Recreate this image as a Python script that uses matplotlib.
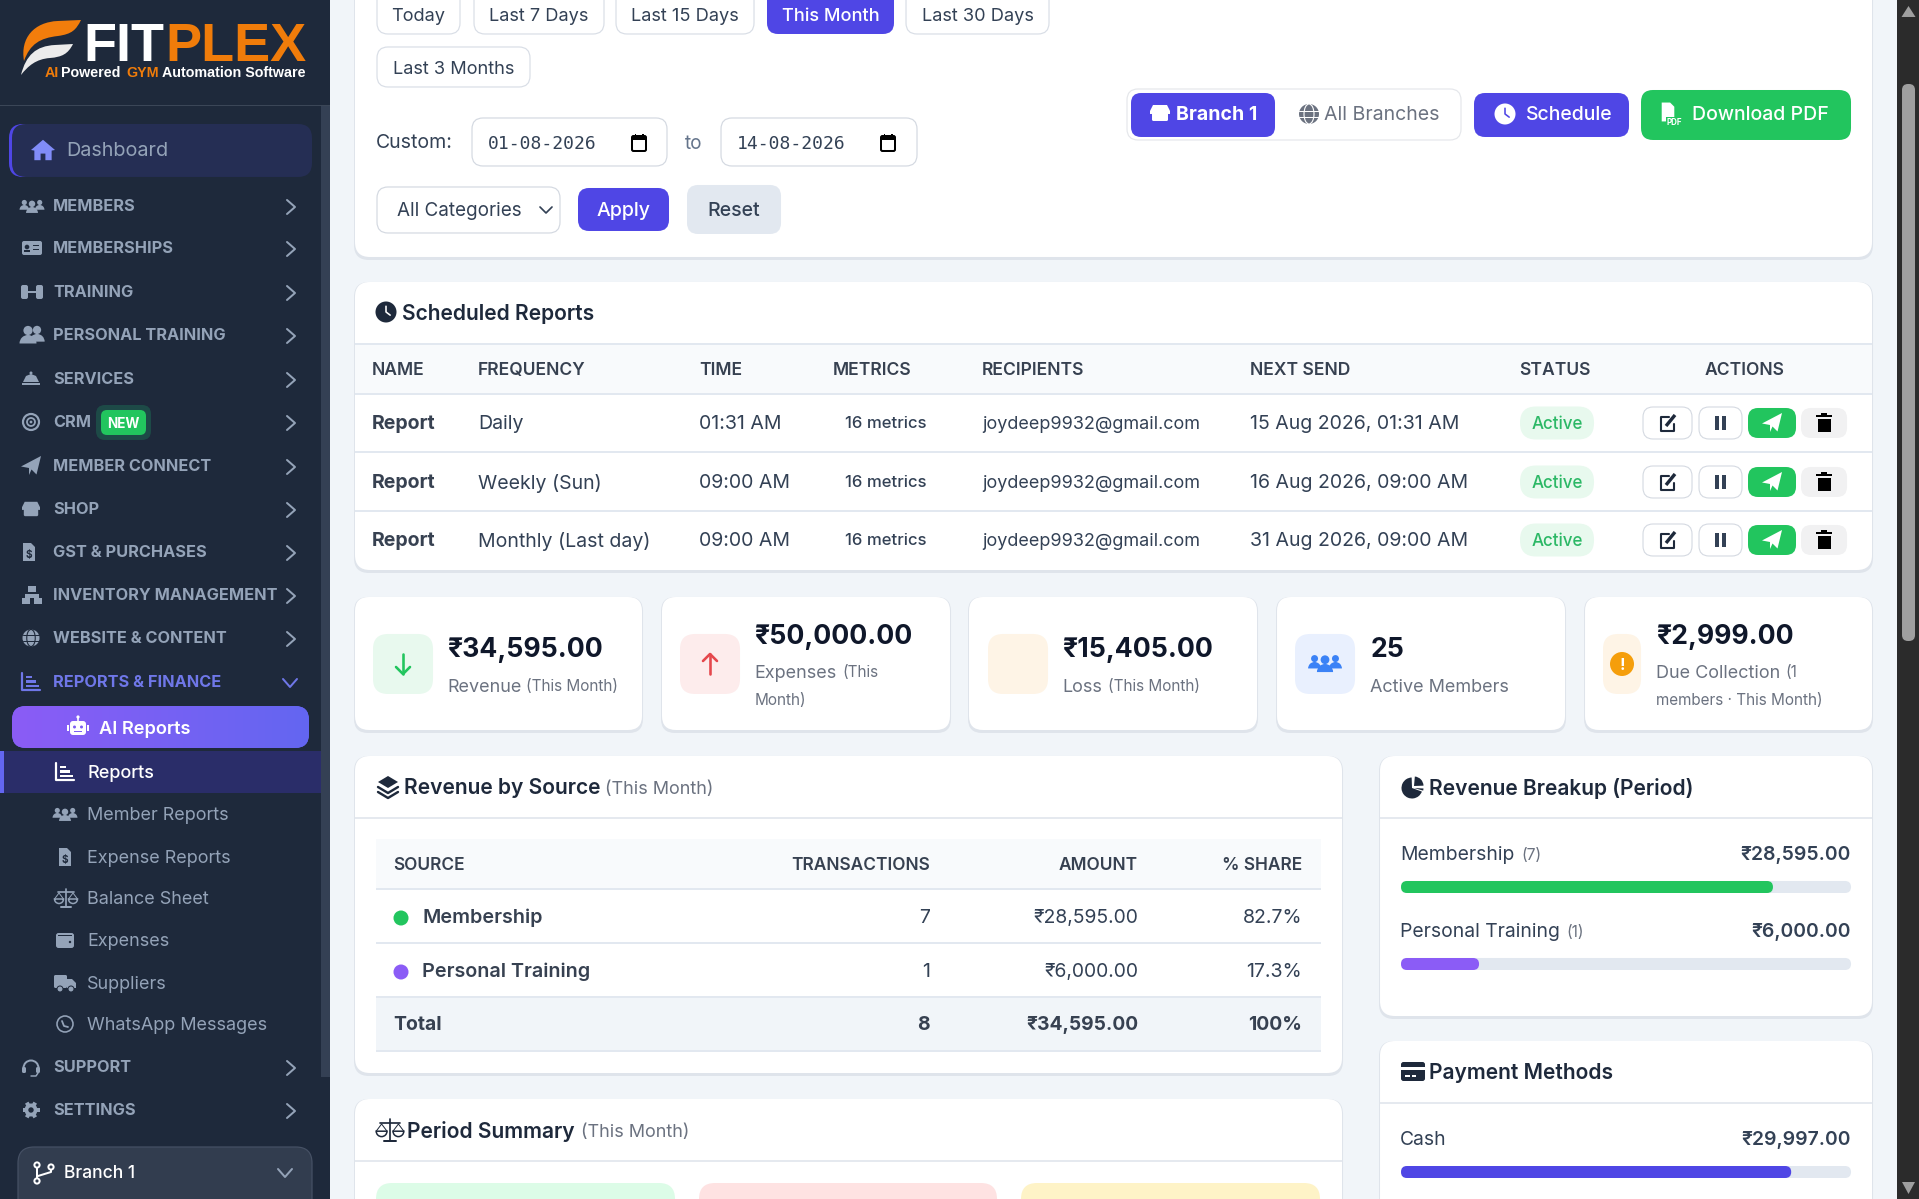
import numpy as np
import matplotlib
matplotlib.use("Agg")
import matplotlib.pyplot as plt
from matplotlib.patches import FancyBboxPatch, Circle, Polygon, Wedge, PathPatch, Ellipse
from matplotlib.path import Path

# ---------- content ----------
nav_sections = ["MEMBERS", "MEMBERSHIPS", "TRAINING", "PERSONAL TRAINING", "SERVICES", "CRM", "MEMBER CONNECT",
                "SHOP", "GST & PURCHASES", "INVENTORY MANAGEMENT", "WEBSITE & CONTENT"]
nav_sub = ["Reports", "Member Reports", "Expense Reports", "Balance Sheet", "Expenses", "Suppliers", "WhatsApp Messages"]
filters = ["Today", "Last 7 Days", "Last 15 Days", "This Month", "Last 30 Days"]
sched_cols = ["NAME", "FREQUENCY", "TIME", "METRICS", "RECIPIENTS", "NEXT SEND", "STATUS"]
sched_freq = ["Daily", "Weekly (Sun)", "Monthly (Last day)"]
sched_time = ["01:31 AM", "09:00 AM", "09:00 AM"]
sched_next = ["15 Aug 2026, 01:31 AM", "16 Aug 2026, 09:00 AM", "31 Aug 2026, 09:00 AM"]
src_names = ["Membership", "Personal Training"]
src_tx = [7, 1]
src_amt = [28595.00, 6000.00]
src_share = ["82.7%", "17.3%"]
cash_amt = 29997.00
total_rev = 34595.00

fig = plt.figure(figsize=(1919.01/100, 1199.01/100), dpi=100, facecolor="#f1f5f9")
ax = fig.add_axes([0, 0, 1, 1])
ax.set_xlim(0, 1919); ax.set_ylim(1199, 0); ax.axis("off"); ax.autoscale(False)

F = ["Inter", "DejaVu Sans"]
DARK = "#1e293b"; SLATE = "#334155"; GREY = "#6b7280"; MUTE = "#94a3b8"; IND = "#4f46e5"; GRN = "#22c55e"

def rr(x0, y0, x1, y1, r, fc, ec="none", lw=0, z=2, alpha=None):
    p = FancyBboxPatch((x0, y0), x1-x0, y1-y0, boxstyle=f"round,pad=0,rounding_size={r}", fc=fc, ec=ec, lw=lw*.72, zorder=z, alpha=alpha)
    ax.add_patch(p); return p
def rect(x0, y0, x1, y1, c, z=2):
    ax.fill([x0, x1, x1, x0], [y0, y0, y1, y1], color=c, lw=0, zorder=z)
def T(x, y, s, px=19.5, c=SLATE, w="normal", ha="left", fam=F, z=6):
    if ha == "left":
        x -= 0.8
    return ax.text(x, y-0.8, s, fontsize=px*.72, color=c, fontweight=w, ha=ha, va="center_baseline", family=fam, zorder=z)
def L(xs, ys, c, lw=2, z=5, cap="round"):
    ax.plot(xs, ys, color=c, lw=lw*.72, solid_capstyle=cap, solid_joinstyle="round", zorder=z)
def C(x, y, r, c, z=5, ec="none", lw=0):
    ax.add_patch(Circle((x, y), r, fc=c, ec=ec, lw=lw*.72, zorder=z))
def P(pts, c, z=5):
    ax.add_patch(Polygon(pts, closed=True, fc=c, ec="none", zorder=z))
def card(x0, y0, x1, y1, r=15):
    rr(x0-1, y0, x1+1, y1+3, r, "#dfe4eb", z=1)
    rr(x0, y0, x1, y1, r, "white", z=2)

# ---------- icons ----------
def ic_home(x, y, s, c):
    P([(x-s, y), (x, y-s*.85), (x+s, y), (x+s*.72, y+.05*s), (x+s*.72, y+s*.85), (x+s*.2, y+s*.85), (x+s*.2, y+s*.3),
       (x-s*.2, y+s*.3), (x-s*.2, y+s*.85), (x-s*.72, y+s*.85), (x-s*.72, y+.05*s)], c)
def person(x, y, s, c):
    C(x, y-s*.45, s*.46, c)
    ax.add_patch(Wedge((x, y+s*.85), s*.85, 180, 360, fc=c, ec="none", zorder=5))
def ic_users(x, y, c, s=8):
    person(x-s*1.1, y-1, s*.8, c); person(x+s*1.1, y-1, s*.8, c); person(x, y+1, s, c)
def ic_two(x, y, c):
    person(x+5, y-1, 9, c); person(x-4, y, 10, c)
def ic_id(x, y, c):
    rr(x-10, y-7, x+10, y+7, 2, c, z=5); C(x-5, y-1, 2.3, DARK, z=6); rect(x-8, y+2, x-2, y+4, DARK, z=6)
    rect(x+1, y-3, x+7, y-1.5, DARK, z=6); rect(x+1, y+1, x+7, y+2.5, DARK, z=6)
def ic_dumb(x, y, c):
    rr(x-11, y-7, x-4, y+7, 2, c, z=5); rr(x+4, y-7, x+11, y+7, 2, c, z=5); rect(x-4, y-1, x+4, y+1.5, c, z=5)
def ic_bell(x, y, c):
    P([(x-8, y+3), (x-5, y-3), (x, y-5), (x+5, y-3), (x+8, y+3)], c); rect(x-9, y+4, x+9, y+6, c, z=5); C(x, y-6, 1.5, c)
def ic_target(x, y, c):
    C(x, y, 8, "none", ec=c, lw=2.2); C(x, y, 4, "none", ec=c, lw=1.8); C(x, y, 1.4, c)
def ic_plane(x, y, s, c):
    P([(x+s, y-s), (x+s*.55, y+s*.85), (x+s*.05, y+s*.35), (x-s*.2, y+s*.9), (x-s*.2, y+s*.2), (x-s, y+s*.05)], c)
def ic_store(x, y, c, s=1.0):
    rr(x-8*s, y-1*s, x+8*s, y+8*s, 1.5, c, z=5)
    P([(x-7*s, y-8*s), (x+7*s, y-8*s), (x+10*s, y-2*s), (x+10*s, y+1*s), (x-10*s, y+1*s), (x-10*s, y-2*s)], c)
def ic_file(x, y, c, tc=DARK, s=1.0, txt="$"):
    P([(x-6*s, y-9*s), (x+2*s, y-9*s), (x+6*s, y-5*s), (x+6*s, y+9*s), (x-6*s, y+9*s)], c)
    if txt: T(x, y+3*s, txt, 10*s, tc, "bold", "center")
def ic_site(x, y, c):
    rect(x-4, y-9, x+4, y-3, c, z=5); rect(x-10, y+3, x-2, y+9, c, z=5); rect(x+2, y+3, x+10, y+9, c, z=5); rect(x-7, y-1, x+7, y+3, c, z=5)
def ic_globe(x, y, r, c, bg=DARK):
    C(x, y, r, c)
    L([x-r, x+r], [y-r*.33, y-r*.33], bg, 1, z=6); L([x-r, x+r], [y+r*.33, y+r*.33], bg, 1, z=6)
    ax.add_patch(Ellipse((x, y), r, 2*r, fc="none", ec=bg, lw=.8, zorder=6))
def ic_chart(x, y, c, s=1.0):
    L([x-9*s, x-9*s, x+9*s], [y-9*s, y+8*s, y+8*s], c, 2.2)
    rect(x-5*s, y-6*s, x+1*s, y-3.5*s, c, z=5); rect(x-5*s, y-1.5*s, x+5*s, y+1*s, c, z=5); rect(x-5*s, y+3*s, x+8*s, y+5.5*s, c, z=5)
def ic_robot(x, y, c, bg):
    rr(x-8, y-6, x+8, y+8, 3, c, z=5); rect(x-11, y-2, x-9, y+4, c, z=5); rect(x+9, y-2, x+11, y+4, c, z=5)
    L([x, x], [y-10, y-6], c, 1.6); C(x, y-10, 1.6, c); C(x-3.5, y, 1.5, bg, z=6); C(x+3.5, y, 1.5, bg, z=6); rect(x-4, y+4, x+4, y+5.5, bg, z=6)
def ic_scale(x, y, c, s=1.0):
    L([x, x], [y-9*s, y+8*s], c, 1.7); L([x-8*s, x+8*s], [y-6*s, y-6*s], c, 1.7); L([x-5*s, x+5*s], [y+9*s, y+9*s], c, 2)
    for d in (-7, 7):
        ax.add_patch(Wedge((x+d*s, y+1*s), 4.5*s, 0, 180, fc="none", ec=c, lw=1.1, zorder=5))
        L([x+(d-4.5)*s, x+d*s, x+(d+4.5)*s], [y+1*s, y-5*s, y+1*s], c, 1)
def ic_wallet(x, y, c):
    rr(x-9, y-7, x+9, y+8, 2.5, c, z=5); C(x+5, y+2, 1.2, DARK, z=6); rect(x-7, y-5, x+7, y-4, DARK, z=6)
def ic_truck(x, y, c):
    rr(x-11, y-8, x+2, y+5, 1.5, c, z=5); P([(x+2, y-4), (x+7, y-4), (x+11, y), (x+11, y+5), (x+2, y+5)], c)
    C(x-5, y+6, 3, c, z=6, ec=DARK, lw=1); C(x+6, y+6, 3, c, z=6, ec=DARK, lw=1)
def ic_wa(x, y, c):
    C(x, y, 8, "none", ec=c, lw=1.6); L([x-3, x-1, x+3], [y-3, y+2, y+3], c, 1.8)
def ic_head(x, y, c):
    ax.add_patch(Wedge((x, y+1), 8.5, 180, 360, width=2, fc=c, ec="none", zorder=5))
    rr(x-9, y, x-5, y+6, 1.5, c, z=5); rr(x+5, y, x+9, y+6, 1.5, c, z=5); L([x+7, x+5, x], [y+6, y+9, y+9], c, 1.5)
def ic_gear(x, y, c):
    for a in np.arange(0, 180, 60):
        ca, sa = np.cos(np.radians(a)), np.sin(np.radians(a))
        L([x-8.5*ca, x+8.5*ca], [y-8.5*sa, y+8.5*sa], c, 4, cap="butt")
    C(x, y, 6.5, c); C(x, y, 2.7, DARK, z=6)
def ic_branch(x, y, c):
    C(x-7, y-8, 2.6, "none", ec=c, lw=2); C(x-7, y+8, 2.6, "none", ec=c, lw=2); C(x+7, y-6, 2.6, "none", ec=c, lw=2)
    L([x-7, x-7], [y-5, y+5], c, 2); L([x+7, x+7, x-6], [y-3, y-1, y+3], c, 2)
def ic_clock(x, y, r, c, hand):
    C(x, y, r, c); L([x, x, x+r*.4], [y-r*.55, y, y+r*.3], hand, 1.6, z=6)
def ic_cal(x, y):
    rr(x-7, y-7, x+7, y+8, 1.5, "white", ec="black", lw=2, z=5); rect(x-7, y-7, x+7, y-3, "black", z=6)
    rect(x-4.5, y-9, x-3, y-6, "black", z=6); rect(x+3, y-9, x+4.5, y-6, "black", z=6)
def ic_edit(x, y):
    L([x+1, x-7, x-7, x+6, x+6], [y-6, y-6, y+8, y+8, y+1], DARK, 2.1); L([x-2, x+7], [y+3, y-8], DARK, 3.4, cap="butt")
def ic_trash(x, y):
    rect(x-6.5, y-4, x+6.5, y+9, "black", z=5); rect(x-8, y-8, x+8, y-5.5, "black", z=5); rect(x-3, y-10, x+3, y-7, "black", z=5)
def ic_layers(x, y, c):
    P([(x, y-11), (x+10, y-5), (x, y+1), (x-10, y-5)], c)
    L([x-10, x, x+10], [y, y+6, y], c, 2.4); L([x-10, x, x+10], [y+5, y+11, y+5], c, 2.4)
def ic_pie(x, y, c):
    ax.add_patch(Wedge((x-1, y+1), 10.5, 20, 268, fc=c, ec="none", zorder=5))
    ax.add_patch(Wedge((x+1, y-1), 9.5, 275, 358, fc=c, ec="none", zorder=5))
    ax.add_patch(Wedge((x+1, y+1), 9.5, 3, 16, fc=c, ec="none", zorder=5))
def ic_ccard(x, y, c):
    rr(x-12, y-10, x+12, y+9, 2.5, c, z=5); rect(x-12, y-5, x+12, y-2, "white", z=6)
    rect(x-8, y+3, x-3, y+5, "white", z=6); rect(x-1, y+3, x+3, y+5, "white", z=6)
def arrow(x, y, c, up):
    d = -1 if up else 1
    L([x, x], [y-10*d, y+10*d], c, 2.6); L([x-7, x, x+7], [y+3*d, y+10*d, y+3*d], c, 2.6)
def chev(x, y, c=MUTE, down=False):
    if down: L([x-7, x, x+7], [y-4, y+4, y-4], c, 2)
    else: L([x-4, x+4, x-4], [y-7, y, y+7], c, 2)

# ---------- sidebar ----------
rect(0, 0, 330, 1199, "#1e293b", z=1)
rect(0, 105, 330, 106, "#3b4657", z=3)
rect(321, 106, 330, 1077, "#344054", z=2)
# logo
ax.add_patch(PathPatch(Path([(21, 75), (26, 55), (36, 46), (55, 45), (73, 44), (68, 54), (62, 57), (50, 58), (36, 59), (28, 66), (21, 75)],
                            [1, 4, 4, 4, 2, 4, 4, 4, 4, 4, 4]), fc="#ececec", ec="none", zorder=4))
ax.add_patch(PathPatch(Path([(24, 61), (20, 38), (34, 22), (58, 21), (81, 20), (76, 30), (72, 34), (58, 36), (40, 38), (30, 44), (24, 61)],
                            [1, 4, 4, 4, 2, 4, 4, 4, 4, 4, 4]), fc="#f27d0c", ec="none", zorder=4))
LB = ["Liberation Sans", "DejaVu Sans"]
T(84, 42, "FIT", 54, "white", "bold", fam=LB)
T(166, 42, "PLEX", 54, "#f07c0a", "bold", fam=LB)
T(45, 72, "AI", 14.3, "#f07c0a", "bold", fam=LB)
T(62, 72, "Powered", 14.3, "white", "bold", fam=LB)
T(127, 72, "GYM", 14.3, "#f07c0a", "bold", fam=LB)
T(163, 72, "Automation Software", 14.3, "white", "bold", fam=LB)
# dashboard
rr(9, 124, 40, 177, 14, IND, z=2)
rr(12, 124, 312, 177, 14, "#252e54", z=3)
ic_home(43, 150, 12, "#818cf8")
T(67, 150, "Dashboard", 19.8, MUTE)
# sections
sec_y = [206, 248, 292, 335, 379, 422, 466, 509, 552, 595, 638]
for name, y in zip(nav_sections, sec_y):
    T(54, y, name, 16.3, MUTE, "bold")
    chev(291, y+1)
ic_users(32, 206, MUTE, 7); ic_id(32, 248, MUTE); ic_dumb(32, 292, MUTE); ic_two(32, 335, MUTE); ic_bell(31, 379, MUTE)
ic_target(31, 422, MUTE); ic_plane(31, 466, 10, MUTE); ic_store(31, 509, MUTE, .9); ic_file(29, 552, MUTE, DARK)
ic_site(32, 595, MUTE); ic_globe(31, 638, 8.5, MUTE)
rr(96, 405, 151, 440, 9, "#1d4a47", z=3); rr(101, 410, 146, 435, 6, GRN, z=4)
T(123.5, 423, "NEW", 13.5, "white", "bold", "center")
# reports
ic_chart(31, 682, "#6f77e8"); T(54, 682, "REPORTS & FINANCE", 16.3, "#6f77e8", "bold"); chev(290, 683, "#6f77e8", True)
ai = rr(12, 706, 309, 748, 14, "#6366f1", z=3)
im = ax.imshow(np.linspace(0, 1, 256).reshape(1, -1), extent=(12, 309, 748, 706), aspect="auto", zorder=3.5,
               cmap=matplotlib.colors.LinearSegmentedColormap.from_list("g", ["#8b5cf6", "#6366f1"]))
im.set_clip_path(ai); ax.set_xlim(0, 1919); ax.set_ylim(1199, 0)
ic_robot(78, 727, "white", "#7c5ff3"); T(100, 728, "AI Reports", 18.2, "white", "semibold")
rect(0, 751, 321, 793, "#2a2d69", z=2); rect(0, 751, 4, 793, "#6366f1", z=3)
sub_y = [772, 814, 857, 898, 940, 983, 1024]
for i, (name, y) in enumerate(zip(nav_sub, sub_y)):
    T(88, y, name, 18, "white" if i == 0 else MUTE, "medium" if i == 0 else "normal")
ic_chart(65, 772, "white"); ic_users(65, 814, MUTE, 7); ic_file(65, 857, MUTE, DARK); ic_scale(66, 898, MUTE); ic_wallet(65, 940, MUTE)
ic_truck(65, 983, MUTE); ic_wa(65, 1024, MUTE)
for name, y in zip(["SUPPORT", "SETTINGS"], [1067, 1110]):
    T(54, y, name, 16.3, MUTE, "bold"); chev(291, y+1)
ic_head(31, 1067, MUTE); ic_gear(31, 1110, MUTE)
rr(18, 1147, 312, 1215, 16, "#323d4f", ec="#465165", lw=1.2, z=3)
ic_branch(44, 1173, "white"); T(65, 1172, "Branch 1", 17.5, "white", "medium"); chev(285, 1173, MUTE, True)

# ---------- right scrollbar ----------
rect(1897, 0, 1919, 1199, "#2b2b2b", z=1)
rr(1902, 84, 1915, 641, 6, "#9f9f9f", z=2)
P([(1901.5, 17), (1915.5, 17), (1908.5, 6)], "#9f9f9f")
P([(1902, 1182), (1915, 1182), (1908.5, 1194)], "#9f9f9f")

# ---------- filter card ----------
card(355, -20, 1872, 257)
boxes = [(377, 460), (474, 604), (616, 754), (767, 894), (906, 1049)]
for (x0, x1), s in zip(boxes, filters):
    on = s == "This Month"
    rr(x0, -15, x1, 34, 11, IND if on else "white", ec="none" if on else "#d9dee6", lw=1.2, z=3)
    T((x0+x1)/2, 15, s, 18.2, "white" if on else SLATE, "medium" if on else "normal", "center")
rr(377, 47, 530, 87, 11, "white", ec="#d9dee6", lw=1.2, z=3)
T(453.5, 68, "Last 3 Months", 18.2, SLATE, ha="center")
T(377, 142, "Custom:", 19.5, SLATE)
M = ["DejaVu Sans Mono"]
for x0, x1, s in [(472, 667, "01-08-2026"), (721, 917, "14-08-2026")]:
    rr(x0, 118, x1, 166, 11, "white", ec="#d4d9e1", lw=1.2, z=3)
    T(x0+17, 143, s, 18, SLATE, fam=M); ic_cal(x0+167, 143)
T(694, 143, "to", 19, "#64748b", ha="center")
rr(377, 187, 560, 233, 11, "white", ec="#d4d9e1", lw=1.2, z=3)
T(398, 210, "All Categories", 18.9, SLATE); L([540, 546, 552], [207, 213, 207], SLATE, 1.7)
rr(578, 188, 669, 231, 11, IND, z=3); T(623.5, 210, "Apply", 19.5, "white", "medium", "center")
rr(687, 185, 781, 234, 11, "#e2e8f0", z=3); T(734, 210, "Reset", 19.5, SLATE, "medium", "center")
rr(1127, 89, 1461, 140, 11, "white", ec="#e5e7eb", lw=1.2, z=3)
rr(1131, 93, 1275, 137, 10, IND, z=4)
ic_store(1160, 113, "white"); T(1177, 114, "Branch 1", 19.5, "white", "bold")
ic_globe(1309, 114, 10, "#6b7280", "white"); T(1325, 114, "All Branches", 19.5, "#6b7280")
rr(1474, 93, 1629, 137, 11, IND, z=4); ic_clock(1505, 114, 10.5, "white", IND); T(1527, 114, "Schedule", 19.5, "white", "medium")
rr(1641, 90, 1851, 140, 12, GRN, z=4); ic_file(1668, 112, "white", "white", 1.05, None)
rect(1666, 117, 1682, 126, GRN, z=6); T(1674, 122, "PDF", 8, "white", "bold", "center", z=7)
T(1693, 114, "Download PDF", 19.5, "white", "medium")

# ---------- scheduled reports ----------
card(355, 282, 1872, 570)
ic_clock(386, 312, 10.5, DARK, "white"); T(403, 313, "Scheduled Reports", 21, DARK, "semibold")
rect(355, 344, 1872, 394, "#f8fafc", z=2)
for y in (344, 394, 452, 511):
    rect(355, y-.6, 1872, y+.6, "#e2e8f0", z=3)
col_x = [373, 479, 700, 834, 983, 1251, 1520]
for x, s in zip(col_x, sched_cols):
    T(x, 369, s, 17.5, "#374151", "semibold")
T(1745, 369, "ACTIONS", 17.5, "#374151", "semibold", "center")
row_y = [423, 482, 540]
for y, fq, tm, nx in zip(row_y, sched_freq, sched_time, sched_next):
    T(373, y, "Report", 19.5, "#374151", "bold"); T(479, y, fq, 19.5, SLATE); T(700, y, tm, 19.5, SLATE)
    T(846, y, "16 metrics", 16.7, SLATE, "medium"); T(983, y, "joydeep9932@gmail.com", 18, SLATE); T(1251, y, nx, 19.5, SLATE)
    rr(1520, y-16.5, 1594, y+16.5, 16, "#e8f9ee", z=3); T(1557, y, "Active", 17, "#2cb866", "medium", "center")
    rr(1643, y-16, 1692, y+16, 10, "white", ec="#d4d9e1", lw=1.1, z=3); ic_edit(1668, y)
    rr(1699, y-16, 1742, y+16, 10, "white", ec="#d4d9e1", lw=1.1, z=3); rect(1715, y-7, 1719, y+7, SLATE, z=5); rect(1722, y-7, 1726, y+7, SLATE, z=5)
    rr(1748, y-15, 1796, y+15, 10, GRN, z=3); ic_plane(1772, y, 10, "white")
    rr(1801, y-15, 1847, y+15, 10, "#f1f1f2", z=3); ic_trash(1824, y)

# ---------- KPI cards ----------
kpi_x = [(355, 642), (662, 950), (969, 1257), (1277, 1565), (1585, 1872)]
for x0, x1 in kpi_x:
    card(x0, 597, x1, 730, 14)
for (x0, x1), c in zip([(373, 433), (680, 740), (988, 1048), (1295, 1355), (1603, 1641)],
                       ["#e8f9ee", "#fdecec", "#fef4e6", "#e9f0fe", "#fef4e6"]):
    rr(x0, 634, x1, 694, 15, c, z=3)
arrow(403, 664, GRN, False); arrow(710, 664, "#e5484d", True)
ic_users(1325, 663, "#3b82f6", 9.5)
C(1622, 664, 12, "#f59e0b"); T(1622, 665, "!", 16, "white", "bold", "center")
BIG = 26.6; NV = "#0f172a"
for x, y, s in [(448, 648, "₹34,595.00"), (755, 635, "₹50,000.00"), (1063, 648, "₹15,405.00"), (1371, 648, "25"), (1657, 635, "₹2,999.00")]:
    T(x, y, s, BIG, NV, "bold")
for x, y, a, ax2, b in [(448, 686, "Revenue", 527, "(This Month)"), (1063, 686, "Loss", 1109, "(This Month)"), (755, 672, "Expenses", 843, "(This")]:
    T(x, y, a, 18, GREY); T(ax2, y, b, 15.3, GREY)
T(755, 700, "Month)", 15.3, GREY)
T(1371, 686, "Active Members", 18, GREY)
T(1657, 672, "Due Collection", 18, GREY); T(1786, 672, "(1", 15.3, GREY)
T(1657, 700, "members · This Month)", 15.3, GREY)

# ---------- revenue by source ----------
card(355, 756, 1342, 1073)
ic_layers(388, 787, DARK); T(405, 787, "Revenue by Source", 21, DARK, "semibold"); T(606, 788, "(This Month)", 18, GREY)
rect(355, 817.5, 1342, 818.6, "#e5e9ef", z=3)
rect(376, 839, 1321, 889, "#f8fafc", z=2); rect(376, 997, 1321, 1051, "#f1f5f9", z=2)
for y in (889, 943, 997, 1051):
    rect(376, y-.6, 1321, y+.6, "#e2e8f0", z=3)
T(394, 864, "SOURCE", 17.3, "#374151", "semibold")
T(930, 864, "TRANSACTIONS", 17.3, "#374151", "semibold", "right"); T(1138, 864, "AMOUNT", 17.3, "#374151", "semibold", "right"); T(1302, 864, "% SHARE", 17.3, "#374151", "semibold", "right")
for y, n, tx, am, sh, c in zip([917, 971], src_names, src_tx, src_amt, src_share, [GRN, "#8b5cf6"]):
    C(401, y+1, 7.5, c); T(423, y, n, 19.8, "#374151", "semibold"); T(930, y, str(tx), 19.5, SLATE, ha="right")
    T(1138, y, f"₹{am:,.2f}", 19.3, SLATE, ha="right"); T(1302, y, sh, 19.5, SLATE, ha="right")
T(394, 1024, "Total", 19.4, "#374151", "bold"); T(930, 1024, str(sum(src_tx)), 19.4, "#374151", "bold", "right")
T(1138, 1024, f"₹{sum(src_amt):,.2f}", 19.2, "#374151", "bold", "right"); T(1302, 1024, "100%", 19.4, "#374151", "bold", "right")

card(355, 1099, 1342, 1240)
ic_scale(390, 1130, DARK, 1.2); T(408, 1130, "Period Summary", 21, DARK, "semibold"); T(582, 1131, "(This Month)", 18, GREY)
rect(355, 1160.5, 1342, 1161.6, "#e5e9ef", z=3)
for x0, x1, c in [(376, 675, "#dcfce7"), (699, 997, "#fee2e2"), (1021, 1320, "#fef3c7")]:
    rr(x0, 1183, x1, 1260, 16, c, z=3)

# ---------- right column ----------
TRK0, TRK1 = 1401, 1851
def bar(y, val, total, c):
    rr(TRK0, y, TRK1, y+12, 6, "#e2e8f0", z=3)
    rr(TRK0, y, TRK0 + (TRK1-TRK0)*val/total, y+12, 6, c, z=4)
card(1380, 756, 1872, 1016)
ic_pie(1413, 787, DARK); T(1430, 787, "Revenue Breakup (Period)", 21, DARK, "semibold")
rect(1380, 817.5, 1872, 818.6, "#e5e9ef", z=3)
for y, n, tx, am, c, xc in zip([854, 931], src_names, src_tx, src_amt, [GRN, "#8b5cf6"], [1522, 1567]):
    T(1401, y, n, 19.3, SLATE); T(xc, y+1, f"({tx})", 15.6, GREY); T(1851, y, f"₹{am:,.2f}", 19.4, SLATE, "semibold", "right")
    bar(y+27, am, total_rev, c)
card(1380, 1041, 1872, 1240)
ic_ccard(1413, 1072, DARK); T(1430, 1072, "Payment Methods", 21, DARK, "semibold")
rect(1380, 1102.5, 1872, 1103.6, "#e5e9ef", z=3)
T(1401, 1139, "Cash", 19.3, SLATE); T(1851, 1139, f"₹{cash_amt:,.2f}", 19.4, SLATE, "semibold", "right")
bar(1166, cash_amt, total_rev, IND)

fig.savefig("out.png", dpi=100, facecolor=fig.get_facecolor())
